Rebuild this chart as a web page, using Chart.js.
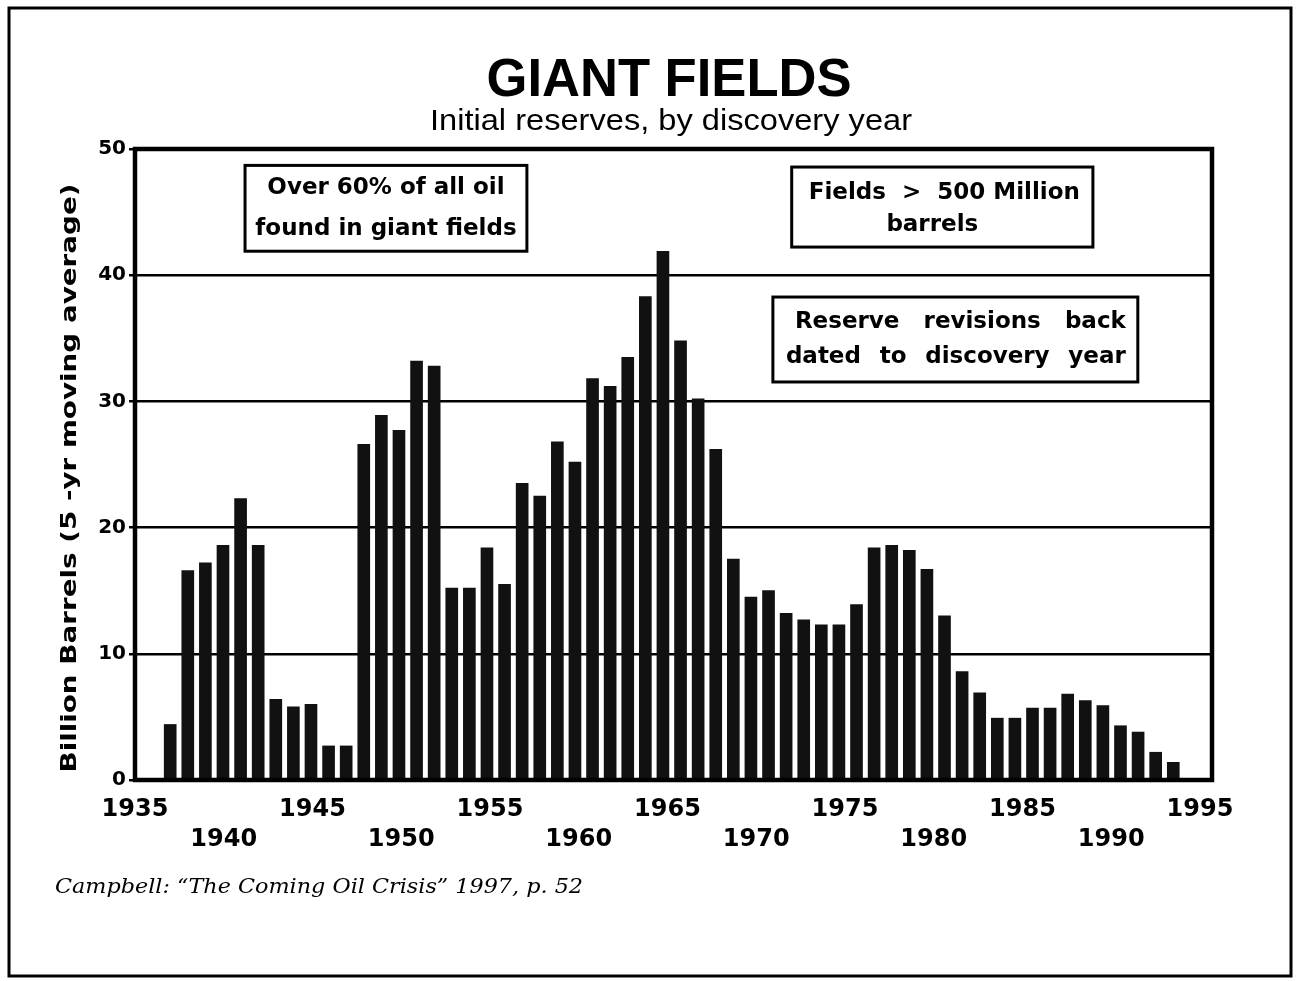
<!DOCTYPE html>
<html><head><meta charset="utf-8">
<script src="https://cdn.jsdelivr.net/npm/chart.js@4.4.1/dist/chart.umd.min.js"></script>
<style>html,body{margin:0;padding:0;background:#fff;}#wrap{width:1298px;height:981px;position:relative;}</style>
</head><body><div id="wrap"><canvas id="c" width="1298" height="981"></canvas></div>
<script>
// ---- data ----
const years = [1937,1938,1939,1940,1941,1942,1943,1944,1945,1946,
               1947,1948,1949,1950,1951,1952,1953,1954,1955,1956,
               1957,1958,1959,1960,1961,1962,1963,1964,1965,1966,
               1967,1968,1969,1970,1971,1972,1973,1974,1975,1976,
               1977,1978,1979,1980,1981,1982,1983,1984,1985,1986,
               1987,1988,1989,1990,1991,1992,1993,1994];
const reserves = [4.4,16.6,17.2,18.6,22.3,18.6,6.4,5.8,6.0,2.7,
                  2.7,26.6,28.9,27.7,33.2,32.8,15.2,15.2,18.4,15.5,
                  23.5,22.5,26.8,25.2,31.8,31.2,33.5,38.3,41.9,34.8,
                  30.2,26.2,17.5,14.5,15.0,13.2,12.7,12.3,12.3,13.9,
                  18.4,18.6,18.2,16.7,13.0,8.6,6.9,4.9,4.9,5.7,
                  5.7,6.8,6.3,5.9,4.3,3.8,2.2,1.4];
const xTickYears = [1935,1940,1945,1950,1955,1960,1965,1970,1975,1980,1985,1990,1995];
const yTickValues = [0,10,20,30,40,50];

const titleText = 'GIANT FIELDS';
const subtitleText = 'Initial reserves, by discovery year';
const yTitleText = 'Billion Barrels (5 -yr moving average)';
const sourceText = 'Campbell: \u201CThe Coming Oil Crisis\u201D 1997, p. 52';
const note1 = ['Over 60% of all oil', 'found in giant fields'];
const note2 = ['Fields  >  500 Million', 'barrels'];
const note3 = ['Reserve revisions back', 'dated to discovery year'];

function fitText(ctx, text, cx, y, font, width, align) {
  ctx.save();
  ctx.font = font;
  const m = ctx.measureText(text).width;
  ctx.translate(cx, y);
  ctx.scale(width / m, 1);
  ctx.textAlign = align || 'center';
  ctx.fillText(text, 0, 0);
  ctx.restore();
}
function justify(ctx, text, x0, x1, y) {
  const words = text.split(' ');
  const ws = words.map(w => ctx.measureText(w).width);
  const total = ws.reduce((a, b) => a + b, 0);
  const gap = (x1 - x0 - total) / (words.length - 1);
  let x = x0;
  ctx.textAlign = 'left';
  words.forEach((w, i) => { ctx.fillText(w, x, y); x += ws[i] + gap; });
}

const deco = {
  id: 'deco',
  beforeDraw(chart) {
    const c = chart.ctx;
    c.save(); c.fillStyle = '#fff'; c.fillRect(0, 0, chart.width, chart.height); c.restore();
  },
  afterDatasetsDraw(chart) {
    const c = chart.ctx, a = chart.chartArea;
    c.save();
    c.strokeStyle = '#000'; c.lineWidth = 4.5;
    c.strokeRect(a.left, a.top, a.right - a.left, a.bottom - a.top);
    c.restore();
  },
  afterDraw(chart) {
    const c = chart.ctx;
    const xs = chart.scales.x, ys = chart.scales.y;
    c.save();
    c.fillStyle = '#000'; c.strokeStyle = '#000';
    c.textBaseline = 'alphabetic';
    // outer frame
    c.lineWidth = 3;
    c.strokeRect(9, 8, 1282, 968);
    // title & subtitle
    fitText(c, titleText, 669, 96, 'bold 53px "Liberation Sans", Arial, sans-serif', 365);
    fitText(c, subtitleText, 671, 130, '30px "Liberation Sans", Arial, sans-serif', 482);
    // y-axis title
    c.save();
    c.translate(76, 478);
    c.rotate(-Math.PI / 2);
    c.font = 'bold 22px "DejaVu Sans", sans-serif';
    const m = c.measureText(yTitleText).width;
    c.scale(589 / m, 1);
    c.textAlign = 'center';
    c.fillText(yTitleText, 0, 0);
    c.restore();
    // annotation boxes
    function box(x0v, x1v, y0v, y1v) {
      const x0 = xs.getPixelForValue(x0v), x1 = xs.getPixelForValue(x1v);
      const y0 = ys.getPixelForValue(y0v), y1 = ys.getPixelForValue(y1v);
      c.fillStyle = '#fff';
      c.fillRect(x0, y0, x1 - x0, y1 - y0);
      c.fillStyle = '#000';
      c.lineWidth = 3;
      c.strokeRect(x0, y0, x1 - x0, y1 - y0);
      return {x0, x1, y0, y1, cx: (x0 + x1) / 2, h: y1 - y0};
    }
    c.font = 'bold 23px "DejaVu Sans", sans-serif';
    c.textAlign = 'center';
    let b = box(1941.2, 1957.08, 48.7, 41.9);
    c.fillText(note1[0], b.cx, b.y0 + b.h * 0.33);
    c.fillText(note1[1], b.cx, b.y0 + b.h * 0.81);
    b = box(1972.0, 1988.97, 48.57, 42.23);
    c.textAlign = 'center';
    c.fillText(note2[0], b.cx + 2, b.y0 + b.h * 0.40);
    c.fillText(note2[1], b.cx - 10, b.y0 + b.h * 0.80);
    b = box(1970.94, 1991.5, 38.27, 31.54);
    justify(c, note3[0], b.x0 + 22, b.x1 - 12, b.y0 + b.h * 0.36);
    justify(c, note3[1], b.x0 + 13, b.x1 - 12, b.y0 + b.h * 0.78);
    // source
    fitText(c, sourceText, 55, 893, 'italic 21px "DejaVu Serif", serif', 528, 'left');
    c.restore();
  }
};

new Chart(document.getElementById('c'), {
  type: 'bar',
  data: {
    datasets: [{
      data: years.map((y, i) => ({x: y, y: reserves[i]})),
      xAxisID: 'xb', yAxisID: 'y',
      backgroundColor: '#111', borderWidth: 0, barThickness: 12
    }]
  },
  options: {
    responsive: false, animation: false,
    layout: {padding: {left: 85, right: 86, top: 149, bottom: 121}},
    plugins: {legend: {display: false}, tooltip: {enabled: false}, title: {display: false}},
    scales: {
      x: {
        type: 'linear', position: 'bottom', min: 1935, max: 1995.68, offset: false,
        afterBuildTicks: s => { s.ticks = xTickYears.map(v => ({value: v})); },
        afterFit: s => { s.height = 80; },
        grid: {display: false, drawTicks: false, offset: false}, border: {display: false},
        ticks: {
          padding: 15, color: '#000', autoSkip: false, maxRotation: 0,
          font: {family: '"DejaVu Sans", sans-serif', weight: 'bold', size: 24, lineHeight: 1.25},
          callback: v => (v % 10 === 5) ? String(v) : ['', String(v)]
        }
      },
      xb: {type: 'linear', position: 'bottom', min: 1935, max: 1996.2, display: false,
           offset: false, grid: {offset: false}},
      y: {
        min: 0, max: 50,
        afterBuildTicks: s => { s.ticks = yTickValues.map(v => ({value: v})); },
        afterFit: s => { s.width = 50; },
        grid: {color: '#000', lineWidth: 2.5, tickLength: 6, drawTicks: true},
        border: {display: false},
        ticks: {color: '#000', padding: 3,
          font: {family: '"DejaVu Sans", sans-serif', weight: 'bold', size: 20},
          callback: v => String(v)}
      }
    }
  },
  plugins: [deco]
});
</script></body></html>
